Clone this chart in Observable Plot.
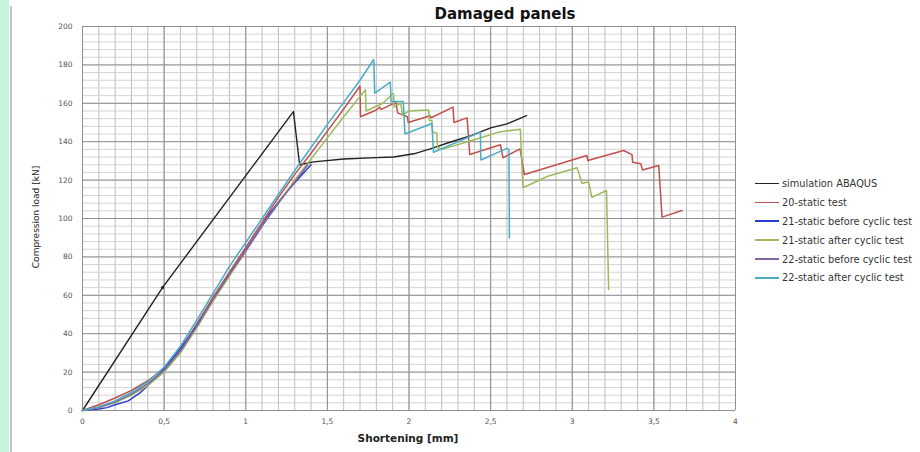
<!DOCTYPE html>
<html>
<head>
<meta charset="utf-8">
<script src="https://cdn.jsdelivr.net/npm/d3@7"></script>
<script src="https://cdn.jsdelivr.net/npm/@observablehq/plot@0.6"></script>
<style>
  html, body { margin: 0; padding: 0; background: #fff; }
  #wrap { position: relative; width: 920px; height: 452px; overflow: hidden; font-family: "DejaVu Sans", sans-serif; }
  #band { position: absolute; left: 0; top: 0; width: 9px; height: 452px; background: #c6f4dc; }
  #edge { position: absolute; left: 10px; top: 6px; width: 2px; height: 446px; background: #c4c4c4; }
  #title { position: absolute; left: 0; width: 1010px; top: 5px; text-align: center; font-weight: bold; font-size: 15px; color: #111; }
  #xlabel { position: absolute; left: 0; width: 816px; top: 432px; text-align: center; font-weight: bold; font-size: 10.5px; color: #222; }
  #ylabel { position: absolute; left: 36px; top: 217px; transform: translate(-50%, -50%) rotate(-90deg); white-space: nowrap; font-size: 9px; color: #222; }
  #legend { position: absolute; left: 755px; top: 174px; font-size: 9.8px; color: #333; }
  .row { height: 18.9px; display: flex; align-items: center; white-space: nowrap; }
  .sw { width: 24px; height: 1.6px; margin-right: 3px; }
  #chart { position: absolute; left: 0; top: 0; }
</style>
</head>
<body>
<div id="wrap">
  <div id="band"></div>
  <div id="edge"></div>
  <div id="chart"></div>
  <div id="title">Damaged panels</div>
  <div id="ylabel">Compression load [kN]</div>
  <div id="xlabel">Shortening [mm]</div>
  <div id="legend"></div>
</div>
<script>
// ---- Data ----
const seriesNames = [
  "simulation ABAQUS",
  "20-static test",
  "21-static before cyclic test",
  "21-static after cyclic test",
  "22-static before cyclic test",
  "22-static after cyclic test"
];
const seriesColors = ["#222222", "#c0504d", "#2b3bd0", "#9bbb59", "#8064a2", "#4bacc6"];

const xTicks = [0, 0.5, 1, 1.5, 2, 2.5, 3, 3.5, 4];
const xTickLabels = ["0", "0,5", "1", "1,5", "2", "2,5", "3", "3,5", "4"];
const yTicks = [0, 20, 40, 60, 80, 100, 120, 140, 160, 180, 200];

// [shortening mm, load kN]
const simAbaqus = [
  [0, 0], [0.49, 64], [1.292, 155.7], [1.33, 128], [1.415, 129.5], [1.6, 131], [1.8, 131.7],
  [1.906, 132], [2.03, 133.7], [2.13, 136.3], [2.25, 139.7], [2.38, 143.2], [2.5, 147.2],
  [2.6, 149.3], [2.72, 153.6]
];
const simMarker = [[0.49, 64]];

const test20 = [
  [0, 0], [0.1, 3], [0.2, 6.5], [0.3, 10.5], [0.4, 15.5], [0.5, 22], [0.6, 32], [0.7, 45],
  [0.8, 59], [0.9, 72], [1.0, 85], [1.1, 98], [1.2, 111], [1.3, 123], [1.4, 134], [1.5, 145.5],
  [1.6, 157], [1.7, 169], [1.703, 153], [1.8, 156.5], [1.82, 158], [1.83, 156.8], [1.92, 160.5],
  [1.93, 155], [1.99, 153], [1.995, 150], [2.13, 153.5], [2.135, 152.5], [2.27, 158], [2.275, 150],
  [2.356, 152.4], [2.372, 133.3], [2.56, 138.4], [2.576, 131.6], [2.68, 136.3], [2.707, 122.9],
  [3.09, 132.8], [3.095, 130.2], [3.315, 135.4], [3.366, 133.3], [3.37, 129.3], [3.42, 128.5],
  [3.43, 125.3], [3.53, 127.6], [3.55, 100.7], [3.672, 104.2]
];

const test21before = [
  [0, 0], [0.1, 0.8], [0.15, 1.5], [0.2, 3], [0.28, 5], [0.35, 9], [0.45, 17], [0.55, 27],
  [0.65, 38], [0.75, 51], [0.85, 64], [0.95, 77], [1.05, 90], [1.15, 103], [1.25, 114], [1.4, 128]
];

const test21after = [
  [0, 0], [0.1, 1.5], [0.2, 4], [0.3, 8], [0.4, 13], [0.5, 20], [0.6, 30], [0.7, 43], [0.8, 57],
  [0.9, 70], [1.0, 83], [1.1, 96], [1.2, 108], [1.3, 120], [1.4, 131], [1.5, 142], [1.6, 153],
  [1.733, 167], [1.737, 156], [1.84, 160], [1.9, 165], [1.905, 165], [1.91, 158], [1.95, 160],
  [1.96, 154], [2.0, 156], [2.12, 156.5], [2.125, 151], [2.14, 151], [2.145, 145], [2.17, 144.5],
  [2.175, 137], [2.2, 136], [2.4, 141], [2.55, 145], [2.682, 146.5], [2.698, 116], [2.85, 122],
  [3.03, 126.4], [3.06, 118.4], [3.1, 119], [3.12, 111], [3.21, 114.6], [3.223, 63]
];

const test22before = [
  [0, 0], [0.1, 1.5], [0.2, 4.5], [0.3, 8.5], [0.4, 14], [0.5, 21], [0.6, 31], [0.7, 44],
  [0.8, 58], [0.9, 71], [1.0, 83], [1.1, 96], [1.2, 108], [1.3, 119], [1.38, 128]
];

const test22after = [
  [0, 0], [0.1, 2], [0.2, 5], [0.3, 9.5], [0.4, 15], [0.5, 22.5], [0.6, 33.5], [0.7, 47],
  [0.8, 61], [0.9, 75], [1.0, 87.5], [1.1, 100], [1.2, 112.5], [1.3, 125], [1.4, 137],
  [1.5, 149], [1.6, 160.5], [1.7, 172], [1.784, 182.8], [1.79, 165.3], [1.886, 171], [1.89, 161],
  [1.965, 161], [1.975, 144], [2.14, 149.5], [2.15, 134.5], [2.437, 145], [2.44, 130.5],
  [2.6, 136.5], [2.612, 136], [2.615, 90]
];

const allSeries = [simAbaqus, test20, test21before, test21after, test22before, test22after];

// ---- Grid positions ----
const xMinor = d3.range(0, 4.0001, 0.1).map(v => +v.toFixed(2));
const yMinor = d3.range(0, 200.001, 4);

const lineMarks = allSeries.map((s, i) =>
  Plot.line(s, { x: d => d[0], y: d => d[1], stroke: seriesColors[i], strokeWidth: i === 0 ? 1.4 : 1.5 })
);

const chart = Plot.plot({
  width: 920,
  height: 452,
  marginLeft: 82,
  marginRight: 185,
  marginTop: 26,
  marginBottom: 42,
  style: { fontFamily: "DejaVu Sans, sans-serif", fontSize: "7.5px", color: "#555", background: "transparent" },
  x: { domain: [0, 4] },
  y: { domain: [0, 200] },
  marks: [
    Plot.ruleX(xMinor, { stroke: "#bdbdbd", strokeWidth: 1 }),
    Plot.ruleY(yMinor, { stroke: "#cfcfcf", strokeWidth: 0.9 }),
    Plot.ruleX(xTicks, { stroke: "#8f8f8f", strokeWidth: 1 }),
    Plot.ruleY(yTicks, { stroke: "#8f8f8f", strokeWidth: 1 }),
    ...lineMarks,
    Plot.dot(simMarker, { x: d => d[0], y: d => d[1], r: 1.6, fill: "#222" }),
    Plot.axisX(xTicks, { tickSize: 0, tickPadding: 8, tickFormat: d => xTickLabels[xTicks.indexOf(d)], label: null }),
    Plot.axisY(yTicks, { tickSize: 0, tickPadding: 10, label: null })
  ]
});
document.getElementById("chart").appendChild(chart);

// ---- Legend ----
const legend = document.getElementById("legend");
seriesNames.forEach((name, i) => {
  const row = document.createElement("div");
  row.className = "row";
  const sw = document.createElement("div");
  sw.className = "sw";
  sw.style.background = seriesColors[i];
  const t = document.createElement("span");
  t.textContent = name;
  row.appendChild(sw);
  row.appendChild(t);
  legend.appendChild(row);
});
</script>
</body>
</html>
